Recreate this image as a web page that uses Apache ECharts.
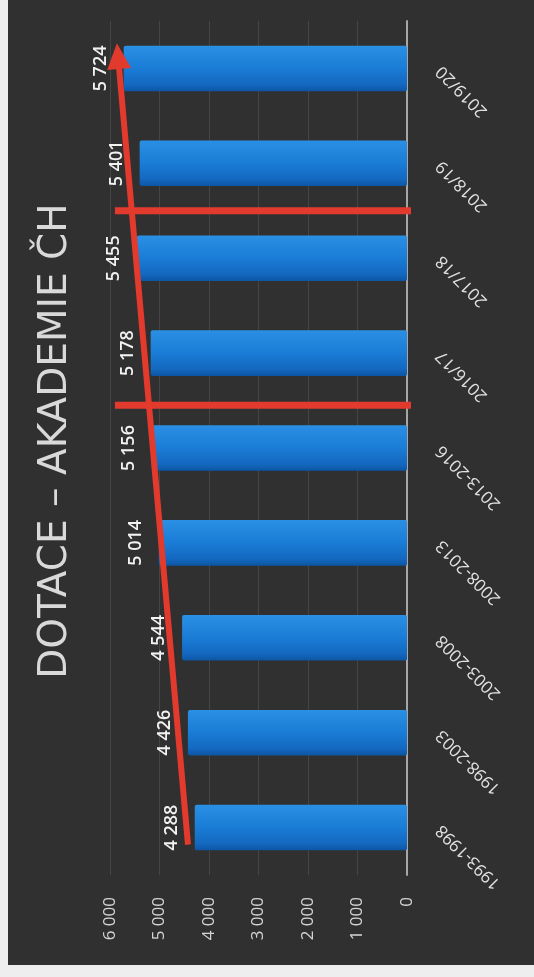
<!DOCTYPE html>
<html>
<head>
<meta charset="utf-8">
<script src="https://cdn.jsdelivr.net/npm/echarts@6/dist/echarts.min.js"></script>
<style>
  html, body { margin: 0; padding: 0; background: #eeeeee; width: 534px; height: 977px; overflow: hidden; }
  #chart { position: absolute; left: 8px; top: 0; width: 526px; height: 965px; }
</style>
</head>
<body>
<div id="chart"></div>
<script>
// ---- data ----
const categories = ['1993-1998', '1998-2003', '2003-2008', '2008-2013', '2013-2016', '2016/17', '2017/18', '2018/19', '2019/20'];
const values = [4288, 4426, 4544, 5014, 5156, 5178, 5455, 5401, 5724];
const valueTicks = [0, 1000, 2000, 3000, 4000, 5000, 6000];
const titleText = 'DOTACE – AKADEMIE ČH';
// annotation lines, in data units [value, category position]
const trendStart = [4424, -0.18];
const trendEnd = [5838, 8.13];
const separatorPositions = [6.5, 4.45];
const separatorRange = [5900, -160];

const fmt = v => String(v).replace(/\B(?=(\d{3})+(?!\d))/g, ' ');

const chart = echarts.init(document.getElementById('chart'), null, { renderer: 'canvas' });

const separatorSeries = separatorPositions.map(p => ({
  type: 'line',
  xAxisIndex: 0,
  yAxisIndex: 1,
  data: [[separatorRange[0], p], [separatorRange[1], p]],
  symbol: 'none',
  clip: false,
  silent: true,
  z: 5,
  lineStyle: { color: '#e23a2c', width: 7 }
}));

chart.setOption({
  backgroundColor: '#303030',
  animation: false,
  graphic: [{
    type: 'text',
    x: 48,
    y: 441,
    rotation: Math.PI / 2,
    style: {
      text: titleText,
      fill: '#d9d9d9',
      font: '39px "DejaVu Sans", sans-serif',
      textAlign: 'center',
      textVerticalAlign: 'middle'
    }
  }],
  grid: { left: 102, right: 127, top: 21, bottom: 90 },
  xAxis: {
    type: 'value',
    inverse: true,
    min: valueTicks[0],
    max: valueTicks[valueTicks.length - 1],
    interval: 1000,
    position: 'bottom',
    axisLine: { show: false },
    axisTick: { show: false },
    splitLine: { show: true, lineStyle: { color: 'rgba(255,255,255,0.10)', width: 1 } },
    axisLabel: {
      rotate: 90,
      margin: 22,
      color: '#d4d4d4',
      fontSize: 17,
      fontFamily: '"Open Sans", sans-serif',
      formatter: v => fmt(v)
    }
  },
  yAxis: [{
    type: 'category',
    data: categories,
    position: 'right',
    axisLine: { show: true, onZero: false, lineStyle: { color: '#a6a6a6', width: 2 } },
    axisTick: { show: false },
    splitLine: { show: false },
    axisLabel: {
      rotate: 135,
      margin: 32,
      color: '#e2e2e2',
      fontSize: 17,
      fontFamily: '"Open Sans", sans-serif'
    }
  }, {
    type: 'value',
    min: -0.5,
    max: categories.length - 0.5,
    show: false
  }],
  series: [{
    type: 'bar',
    data: values,
    barWidth: '48%',
    z: 2,
    itemStyle: {
      color: new echarts.graphic.LinearGradient(0, 0, 0, 1, [
        { offset: 0, color: '#2a90e4' },
        { offset: 0.5, color: '#1a7cd6' },
        { offset: 0.85, color: '#1468bf' },
        { offset: 1, color: '#0c56a4' }
      ]),
      borderRadius: 2
    },
    label: {
      show: true,
      position: 'left',
      distance: 14,
      rotate: 90,
      align: 'center',
      verticalAlign: 'bottom',
      color: '#f2f2f2',
      fontSize: 18,
      fontWeight: 600,
      fontFamily: '"Open Sans", sans-serif',
      formatter: p => fmt(p.value)
    }
  }, ...separatorSeries, {
    type: 'line',
    xAxisIndex: 0,
    yAxisIndex: 1,
    data: [
      { value: trendStart, symbol: 'none' },
      { value: trendEnd, symbol: 'triangle', symbolSize: [24, 26], symbolRotate: 5 }
    ],
    clip: false,
    silent: true,
    z: 6,
    lineStyle: { color: '#e23a2c', width: 6 },
    itemStyle: { color: '#e23a2c' }
  }]
});
</script>
</body>
</html>
